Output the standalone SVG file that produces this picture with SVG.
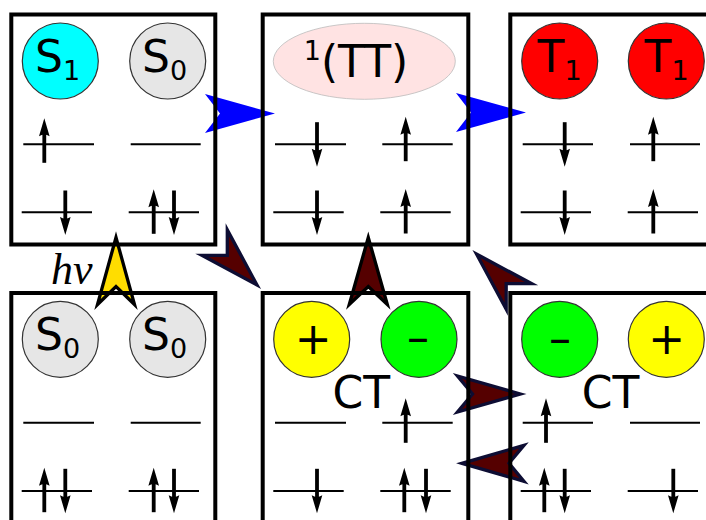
<svg xmlns="http://www.w3.org/2000/svg" width="706" height="520" viewBox="0 0 706 520">
<style>
.box{fill:none;stroke:#000;stroke-width:4}
.lvl{stroke:#000;stroke-width:2;fill:none}
.orb{stroke:#333;stroke-width:1.2}
.lab{font-family:"DejaVu Sans",sans-serif;font-size:44px;fill:#000}
.sub{font-size:27px}
.blue{fill:#0000ff}
.ctr{fill:#550000;stroke:#0d0d33;stroke-width:3.3;stroke-linejoin:miter;stroke-miterlimit:10}
.ctv{fill:#550000;stroke:#000;stroke-width:3.3;stroke-linejoin:miter;stroke-miterlimit:10}
.hvA{fill:#ffdd00;stroke:#000;stroke-width:3.3;stroke-linejoin:miter;stroke-miterlimit:10}
.hvT{font-family:"Liberation Serif",serif;font-style:italic;font-size:44px;fill:#000}
</style>
<defs>
<g id="eu"><path d="M0,0 L5.3,18 Q0,14.5 -5.3,18 Z"/><rect x="-1.9" y="15" width="3.8" height="29.5"/></g>
<g id="ed"><path d="M0,0 L5.3,-18 Q0,-14.5 -5.3,-18 Z"/><rect x="-1.9" y="-44.5" width="3.8" height="29.5"/></g>
</defs>
<rect width="706" height="520" fill="#fff"/>
<g id="connectors">
<path class="blue" d="M0,0 L-70,-19.5 L-55,0 L-70,19.5 Z" transform="translate(275,113.5)"/>
<path class="blue" d="M0,0 L-70,-19.5 L-55,0 L-70,19.5 Z" transform="translate(526,112.5)"/>
<path class="hvA" d="M0,0 L-67,-18.5 L-49,0 L-67,18.5 Z" transform="translate(116,237.5) rotate(-90)"/>
<text class="hvT" x="51" y="284">hv</text>
<path class="ctv" d="M0,0 L-67,-19 L-49,0 L-67,19 Z" transform="translate(368.3,237.5) rotate(-90)"/>
<path class="ctr" d="M0,0 L-60,-18 L-42,0 L-60,18 Z" transform="translate(257,285) rotate(45)"/>
<path class="ctr" d="M0,0 L-60,-18 L-42,0 L-60,18 Z" transform="translate(476.5,254) rotate(225)"/>
<path class="ctr" d="M0,0 L-63,-18 L-48,0 L-63,18 Z" transform="translate(520.5,394)"/>
<path class="ctr" d="M0,0 L-62,-18 L-47,0 L-62,18 Z" transform="translate(462,463.3) rotate(180)"/>
</g>
<g id="S1S0">
<rect class="box" x="11.3" y="14.5" width="204" height="230"/>
<circle class="orb" cx="60.3" cy="61" r="38" fill="#00ffff"/>
<text class="lab" x="35" y="71.7">S<tspan class="sub" dy="8.3">1</tspan></text>
<circle class="orb" cx="167.7" cy="61" r="38" fill="#e6e6e6"/>
<text class="lab" x="142" y="71.7">S<tspan class="sub" dy="8.3">0</tspan></text>
<path class="lvl" d="M23.3,144.3H94M130.7,144.3H200.7M21.7,212.3H92M128.7,212.3H199"/>
<use href="#eu" x="44.3" y="118.3"/>
<use href="#ed" x="65.3" y="235"/>
<use href="#eu" x="153.7" y="189.3"/>
<use href="#ed" x="174" y="235"/>
</g>
<g id="TT">
<rect class="box" x="262.7" y="14.5" width="205.6" height="230"/>
<ellipse cx="364.3" cy="61.3" rx="91" ry="38" fill="#ffe3e3" stroke="#bbb" stroke-width="0.8"/>
<text class="lab" x="303.7" y="77.3"><tspan class="sub" dy="-17.3">1</tspan><tspan dy="17.3">(TT)</tspan></text>
<path class="lvl" d="M275,144.3H346M382.3,144.3H452.7M273.3,212.3H343.7M380.3,212.3H450.7"/>
<use href="#ed" x="317" y="166.7"/>
<use href="#eu" x="405.7" y="116.7"/>
<use href="#ed" x="317" y="235"/>
<use href="#eu" x="405.7" y="189"/>
</g>
<g id="T1T1">
<rect class="box" x="510.3" y="14.5" width="210" height="230"/>
<circle class="orb" cx="559.7" cy="61" r="38" fill="#ff0000"/>
<text class="lab" x="537.5" y="71.7">T<tspan class="sub" dy="8.3">1</tspan></text>
<circle class="orb" cx="666.3" cy="61" r="38" fill="#ff0000"/>
<text class="lab" x="644.5" y="71.7">T<tspan class="sub" dy="8.3">1</tspan></text>
<path class="lvl" d="M522.7,144.3H593M630,144.3H700M520.7,212.3H591M627.7,212.3H698"/>
<use href="#ed" x="564.7" y="166.7"/>
<use href="#eu" x="653.3" y="116.7"/>
<use href="#ed" x="564.7" y="235"/>
<use href="#eu" x="653.3" y="189"/>
</g>
<g id="S0S0">
<rect class="box" x="11.3" y="293" width="204" height="240"/>
<circle class="orb" cx="60.3" cy="339.3" r="38" fill="#e6e6e6"/>
<text class="lab" x="35" y="350">S<tspan class="sub" dy="8.3">0</tspan></text>
<circle class="orb" cx="167.7" cy="339.3" r="38" fill="#e6e6e6"/>
<text class="lab" x="142" y="350">S<tspan class="sub" dy="8.3">0</tspan></text>
<path class="lvl" d="M23.3,422.7H94M130.7,422.7H200.7M21.7,491H92M128.7,491H199"/>
<use href="#eu" x="44.3" y="467.7"/>
<use href="#ed" x="65.3" y="513.3"/>
<use href="#eu" x="153.7" y="467.7"/>
<use href="#ed" x="174" y="513.3"/>
</g>
<g id="CT1">
<rect class="box" x="262.7" y="293" width="205.6" height="240"/>
<circle class="orb" cx="311.7" cy="339.3" r="38" fill="#ffff00"/>
<text class="lab" x="313.3" y="354" text-anchor="middle">+</text>
<circle class="orb" cx="419" cy="339.3" r="38" fill="#00ff00"/>
<text class="lab" x="418" y="352.5" text-anchor="middle">–</text>
<text class="lab" x="332.5" y="408">CT</text>
<path class="lvl" d="M275,422.7H346M382.3,422.7H452.7M273.3,491H343.7M380.3,491H450.7"/>
<use href="#eu" x="405.7" y="398.3"/>
<use href="#ed" x="317" y="513.3"/>
<use href="#eu" x="404.3" y="467.7"/>
<use href="#ed" x="426" y="513.3"/>
</g>
<g id="CT2">
<rect class="box" x="510.3" y="293" width="210" height="240"/>
<circle class="orb" cx="559.7" cy="339.3" r="38" fill="#00ff00"/>
<text class="lab" x="560" y="354" text-anchor="middle">–</text>
<circle class="orb" cx="666.3" cy="339.3" r="38" fill="#ffff00"/>
<text class="lab" x="666.7" y="354" text-anchor="middle">+</text>
<text class="lab" x="581.8" y="408">CT</text>
<path class="lvl" d="M522.7,422.7H593M630,422.7H700M520.7,491H591M627.7,491H698"/>
<use href="#eu" x="546" y="398.3"/>
<use href="#eu" x="544.3" y="467.7"/>
<use href="#ed" x="564.7" y="513.3"/>
<use href="#ed" x="673.3" y="513.3"/>
</g>
</svg>
